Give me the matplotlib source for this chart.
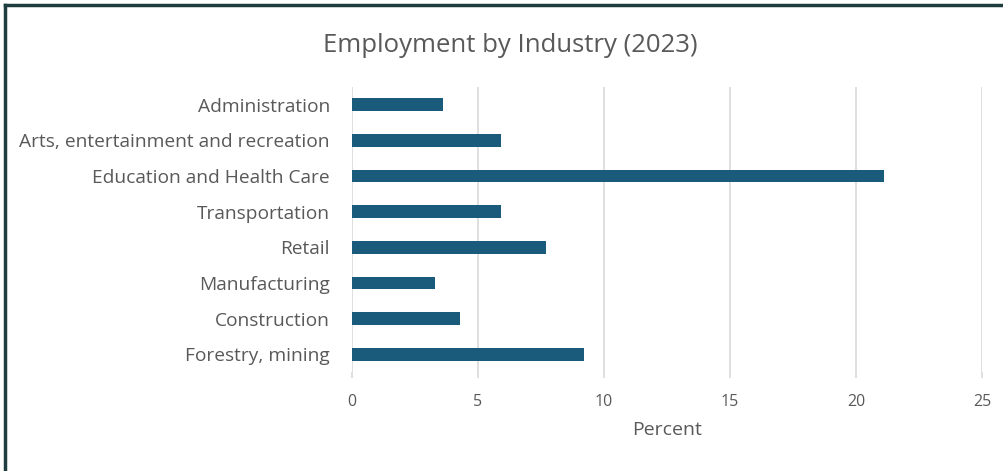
import matplotlib
matplotlib.use("Agg")
import matplotlib.pyplot as plt
from matplotlib.lines import Line2D

# Data (top to bottom as shown)
industries = ["Administration", "Arts, entertainment and recreation",
              "Education and Health Care", "Transportation", "Retail",
              "Manufacturing", "Construction", "Forestry, mining"]
percent = [3.6, 5.9, 21.1, 5.9, 7.7, 3.3, 4.3, 9.2]
xticks = [0, 5, 10, 15, 20, 25]

plt.rcParams["font.family"] = ["Open Sans", "DejaVu Sans"]
txt = "#595959"
bar_color = "#1a5b7c"

fig = plt.figure(figsize=(10.04, 4.71), dpi=100)
ax = fig.add_axes([352 / 1004, 1 - 372 / 471, 630 / 1004, 285 / 471])

ypos = list(range(len(industries)))[::-1]
ax.barh(ypos, percent, height=0.36, color=bar_color, zorder=3)

ax.set_xlim(0, 25)
ax.set_ylim(-0.5, len(industries) - 0.5)
ax.set_yticks(ypos)
ax.set_yticklabels(industries, fontsize=13.8, color=txt, va="center_baseline")
ax.set_xticks(xticks)
ax.set_xticklabels([str(t) for t in xticks], fontsize=11.5, color=txt)
ax.tick_params(axis="y", length=0, pad=16)
ax.tick_params(axis="x", length=4, color="#d9d9d9", width=1.2, pad=12)
ax.grid(axis="x", color="#d9d9d9", linewidth=1.2, zorder=0)
for s in ax.spines.values():
    s.set_visible(False)

ax.set_xlabel("Percent", fontsize=14, color=txt, labelpad=8)
fig.text(510 / 1004, 1 - 45 / 471, "Employment by Industry (2023)",
         fontsize=18.5, color=txt, ha="center", va="center")

# frame lines on the top and left edges
fig.add_artist(Line2D([5 / 1004, 5 / 1004], [0, 1 - 5 / 471],
                      transform=fig.transFigure, color="#1f3d3f", linewidth=2.5))
fig.add_artist(Line2D([5 / 1004, 1], [1 - 5 / 471, 1 - 5 / 471],
                      transform=fig.transFigure, color="#1f3d3f", linewidth=2.5))

fig.savefig("out.png", dpi=100)
